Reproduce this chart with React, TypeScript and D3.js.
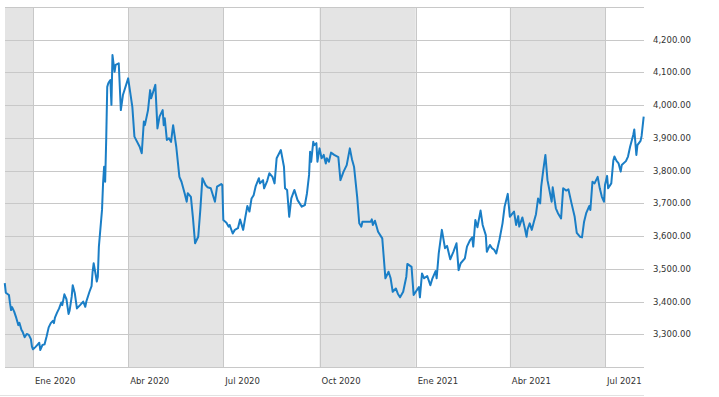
import React from 'react';
import * as d3 from 'd3';

// fechas y cierres
const dates = [
  '2019-12-05','2019-12-06','2019-12-09','2019-12-10','2019-12-11','2019-12-12','2019-12-14','2019-12-16','2019-12-18','2019-12-19',
  '2019-12-21','2019-12-22','2019-12-24','2019-12-26','2019-12-28','2019-12-30','2019-12-31','2020-01-01','2020-01-03','2020-01-05',
  '2020-01-07','2020-01-08','2020-01-10','2020-01-12','2020-01-14','2020-01-16','2020-01-18','2020-01-20','2020-01-21','2020-01-22',
  '2020-01-24','2020-01-26','2020-01-28','2020-01-29','2020-01-31','2020-02-02','2020-02-04','2020-02-05','2020-02-07','2020-02-08',
  '2020-02-10','2020-02-12','2020-02-15','2020-02-18','2020-02-19','2020-02-20','2020-02-21','2020-02-24','2020-02-26','2020-02-27',
  '2020-02-28','2020-03-01','2020-03-02','2020-03-03','2020-03-04','2020-03-07','2020-03-08','2020-03-09','2020-03-10','2020-03-11',
  '2020-03-12','2020-03-13','2020-03-14','2020-03-15','2020-03-16','2020-03-17','2020-03-19','2020-03-20','2020-03-23','2020-03-25',
  '2020-03-27','2020-04-01','2020-04-05','2020-04-07','2020-04-12','2020-04-14','2020-04-16','2020-04-17','2020-04-20','2020-04-22',
  '2020-04-23','2020-04-27','2020-04-29','2020-05-01','2020-05-04','2020-05-05','2020-05-06','2020-05-08','2020-05-10','2020-05-12',
  '2020-05-14','2020-05-17','2020-05-20','2020-05-22','2020-05-25','2020-05-27','2020-05-28','2020-05-31','2020-06-02','2020-06-04',
  '2020-06-07','2020-06-09','2020-06-11','2020-06-14','2020-06-16','2020-06-19','2020-06-23','2020-06-25','2020-06-29','2020-06-30',
  '2020-07-01','2020-07-04','2020-07-06','2020-07-07','2020-07-10','2020-07-12','2020-07-15','2020-07-17','2020-07-20','2020-07-22',
  '2020-07-24','2020-07-26','2020-07-28','2020-07-30','2020-08-01','2020-08-04','2020-08-05','2020-08-08','2020-08-09','2020-08-12',
  '2020-08-14','2020-08-17','2020-08-19','2020-08-21','2020-08-25','2020-08-28','2020-08-29','2020-08-31','2020-09-02','2020-09-04',
  '2020-09-07','2020-09-10','2020-09-14','2020-09-17','2020-09-19','2020-09-21','2020-09-22','2020-09-23','2020-09-25','2020-09-26',
  '2020-09-28','2020-09-29','2020-10-01','2020-10-03','2020-10-05','2020-10-07','2020-10-08','2020-10-10','2020-10-12','2020-10-15',
  '2020-10-19','2020-10-21','2020-10-24','2020-10-27','2020-10-30','2020-11-01','2020-11-03','2020-11-06','2020-11-08','2020-11-10',
  '2020-11-11','2020-11-15','2020-11-19','2020-11-20','2020-11-21','2020-11-23','2020-11-26','2020-11-30','2020-12-03','2020-12-06',
  '2020-12-08','2020-12-10','2020-12-13','2020-12-15','2020-12-17','2020-12-20','2020-12-23','2020-12-24','2020-12-28','2020-12-30',
  '2021-01-01','2021-01-04','2021-01-05','2021-01-07','2021-01-09','2021-01-12','2021-01-15','2021-01-17','2021-01-20','2021-01-21',
  '2021-01-23','2021-01-26','2021-01-29','2021-01-31','2021-02-03','2021-02-06','2021-02-09','2021-02-11','2021-02-13','2021-02-17',
  '2021-02-19','2021-02-22','2021-02-24','2021-02-25','2021-02-27','2021-03-01','2021-03-04','2021-03-06','2021-03-09','2021-03-10',
  '2021-03-13','2021-03-15','2021-03-17','2021-03-19','2021-03-22','2021-03-25','2021-03-27','2021-03-30','2021-04-01','2021-04-03',
  '2021-04-05','2021-04-07','2021-04-09','2021-04-10','2021-04-13','2021-04-15','2021-04-17','2021-04-18','2021-04-20','2021-04-22',
  '2021-04-24','2021-04-26','2021-04-28','2021-04-30','2021-05-01','2021-05-03','2021-05-05','2021-05-07','2021-05-11','2021-05-12',
  '2021-05-15','2021-05-17','2021-05-20','2021-05-22','2021-05-25','2021-05-27','2021-05-30','2021-06-02','2021-06-04','2021-06-07',
  '2021-06-09','2021-06-11','2021-06-13','2021-06-16','2021-06-17','2021-06-19','2021-06-21','2021-06-24','2021-06-26','2021-06-28',
  '2021-06-30','2021-07-01','2021-07-03','2021-07-04','2021-07-07','2021-07-09','2021-07-10','2021-07-12','2021-07-14','2021-07-16',
  '2021-07-17','2021-07-21','2021-07-23','2021-07-25','2021-07-28','2021-07-29','2021-07-31','2021-08-01','2021-08-04','2021-08-05',
  '2021-08-07',
];

const values = [
  3456, 3427, 3420, 3395, 3374, 3383, 3369, 3350, 3328, 3335,
  3313, 3308, 3291, 3301, 3298, 3285, 3262, 3254, 3260, 3267,
  3274, 3252, 3267, 3269, 3293, 3321, 3334, 3341, 3334, 3351,
  3366, 3379, 3397, 3389, 3422, 3407, 3362, 3372, 3415, 3450,
  3425, 3379, 3389, 3400, 3392, 3384, 3400, 3430, 3447, 3491,
  3517, 3481, 3461, 3476, 3568, 3680, 3761, 3812, 3766, 3894,
  4056, 4067, 4072, 4077, 4001, 4153, 4102, 4123, 4128, 3985,
  4031, 4082, 3995, 3904, 3873, 3853, 3950, 3939, 3985, 4046,
  4021, 4062, 3929, 3965, 3985, 3939, 3960, 3894, 3899, 3888,
  3939, 3873, 3781, 3766, 3731, 3705, 3731, 3720, 3654, 3578,
  3598, 3680, 3777, 3756, 3749, 3746, 3705, 3751, 3759, 3756,
  3649, 3641, 3629, 3634, 3608, 3619, 3624, 3651, 3619, 3657,
  3692, 3675, 3715, 3725, 3753, 3777, 3761, 3771, 3746, 3769,
  3792, 3781, 3761, 3838, 3863, 3812, 3746, 3741, 3659, 3715,
  3741, 3710, 3690, 3695, 3731, 3787, 3858, 3827, 3888, 3878,
  3884, 3827, 3868, 3838, 3848, 3822, 3838, 3827, 3855, 3848,
  3841, 3771, 3797, 3817, 3868, 3835, 3812, 3720, 3639, 3629,
  3644, 3644, 3644, 3651, 3634, 3647, 3613, 3593, 3471, 3491,
  3471, 3430, 3440, 3423, 3413, 3430, 3476, 3515, 3506, 3420,
  3430, 3444, 3413, 3486, 3471, 3478, 3450, 3471, 3493, 3471,
  3547, 3619, 3563, 3570, 3529, 3552, 3578, 3496, 3517, 3532,
  3568, 3588, 3596, 3568, 3649, 3627, 3678, 3634, 3603, 3552,
  3573, 3563, 3558, 3547, 3588, 3639, 3690, 3729, 3659, 3667,
  3675, 3634, 3661, 3629, 3657, 3629, 3598, 3621, 3639, 3619,
  3644, 3667, 3715, 3700, 3751, 3802, 3848, 3771, 3705, 3749,
  3685, 3670, 3654, 3746, 3739, 3743, 3700, 3659, 3610, 3598,
  3596, 3644, 3670, 3692, 3680, 3766, 3761, 3781, 3746, 3720,
  3705, 3756, 3784, 3746, 3761, 3832, 3843, 3830, 3822, 3797,
  3817, 3829, 3843, 3873, 3909, 3926, 3848, 3878, 3891, 3906,
  3965,
];

const yTicks = [3300, 3400, 3500, 3600, 3700, 3800, 3900, 4000, 4100, 4200, 4300];
const monthNames = ['Ene', 'Feb', 'Mar', 'Abr', 'May', 'Jun', 'Jul', 'Ago', 'Sep', 'Oct', 'Nov', 'Dic'];

const W = 719;
const H = 397;
const left = 5;
const right = 644;
const top = 7;
const bottom = 367;

const App = () => {
  const parse = d3.timeParse('%Y-%m-%d');
  const data = dates.map((d, i) => ({ date: parse(d) as Date, value: values[i] }));

  const x = d3.scaleTime()
    .domain([new Date(2020, 0, 1), new Date(2021, 6, 1)])
    .range([33, 605]);
  const y = d3.scaleLinear().domain([3200, 4300]).range([bottom, top]);

  const start = x.invert(left);
  const end = x.invert(right);
  const quarters = d3.timeMonth.every(3)!.range(d3.timeMonth.offset(start, -3), end);

  const line = d3.line<{ date: Date; value: number }>()
    .x(d => x(d.date))
    .y(d => y(d.value));

  const fmt = d3.format(',.2f');
  const font = 'DejaVu Sans, Verdana, sans-serif';

  return (
    <svg width={W} height={H} style={{ position: 'absolute', left: 0, top: 0, background: '#fff' }}>
      {/* bandas trimestrales */}
      {quarters.map(q => {
        const m = q.getMonth();
        if (m !== 3 && m !== 9) return null;
        const x0 = Math.max(left, x(q));
        const x1 = Math.min(right, x(d3.timeMonth.offset(q, 3)));
        if (x1 <= x0) return null;
        return <rect key={+q} x={x0} y={top} width={x1 - x0} height={bottom - top} fill="#e4e4e4" />;
      })}
      {yTicks.map(t => (
        <line key={t} x1={left} x2={right} y1={Math.round(y(t)) + 0.5} y2={Math.round(y(t)) + 0.5}
          stroke="#c8c8c8" strokeWidth={1} />
      ))}
      {quarters.filter(q => x(q) > left && x(q) < right).map(q => (
        <line key={'v' + +q} x1={Math.round(x(q)) + 0.5} x2={Math.round(x(q)) + 0.5} y1={top} y2={bottom}
          stroke="#c8c8c8" strokeWidth={1} />
      ))}
      <line x1={left} x2={right} y1={bottom + 0.5} y2={bottom + 0.5} stroke="#c8c8c8" />
      <line x1={0} x2={right} y1={H - 1.5} y2={H - 1.5} stroke="#e2e2e2" />

      <path d={line(data) || ''} fill="none" stroke="#1a7ec6" strokeWidth={2} strokeLinejoin="round" />

      {yTicks.filter(t => t < 4300).map(t => (
        <text key={'l' + t} x={653} y={y(t)} dy="0.35em" fontFamily={font} fontSize={8.5} fill="#333">
          {fmt(t)}
        </text>
      ))}
      {quarters.filter(q => x(q) > left && x(q) < right).map(q => (
        <text key={'t' + +q} x={x(q) + 2} y={384} fontFamily={font} fontSize={8.5} fill="#333">
          {monthNames[q.getMonth()] + ' ' + q.getFullYear()}
        </text>
      ))}
    </svg>
  );
};

export default App;
